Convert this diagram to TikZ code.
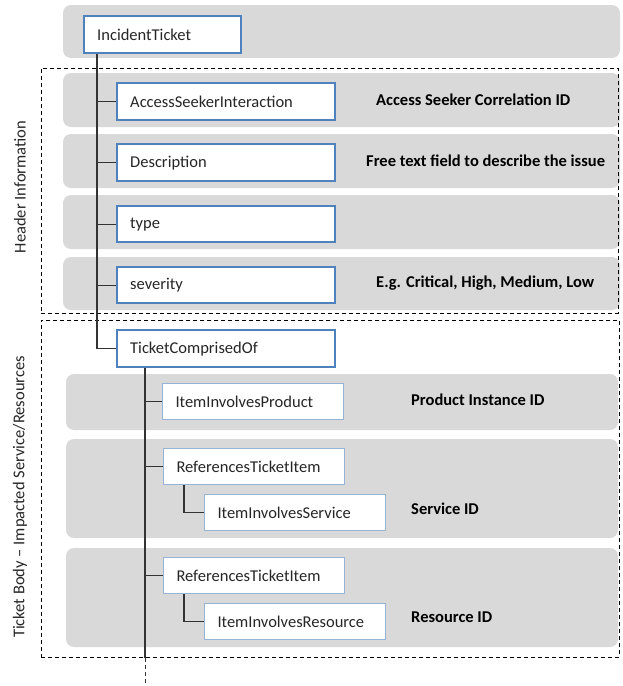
\documentclass[tikz,border=0pt]{standalone}
\usepackage{fontspec}
\setmainfont{Carlito}
\definecolor{bandgray}{HTML}{D9D9D9}
\definecolor{blueB}{HTML}{4F81BD}
\definecolor{blueL}{HTML}{95B3D7}
\definecolor{txt}{HTML}{262626}
\definecolor{conn}{HTML}{333333}
\tikzset{
  band/.style={fill=bandgray, rounded corners=8pt, draw=none},
  bigbox/.style={draw=blueB, line width=2.4pt, fill=white, anchor=north west, inner xsep=13pt, inner ysep=0pt, align=left, text=txt, font=\fontsize{16.5}{18}\selectfont, minimum height=37pt, text width=192pt},
  smallbox/.style={draw=blueL, line width=1pt, fill=white, anchor=north west, inner xsep=13pt, inner ysep=0pt, align=left, text=txt, font=\fontsize{16.5}{18}\selectfont, minimum height=36pt, text width=155pt},
  dashbox/.style={draw=black, dashed, dash pattern=on 4pt off 3pt, line width=0.9pt, anchor=north west, inner sep=0pt},
  desc/.style={anchor=west, font=\bfseries\fontsize{16.5}{18}\selectfont, text=black, inner sep=0pt},
  vlabel/.style={rotate=90, font=\fontsize{16.5}{18}\selectfont, text=txt, inner sep=0pt},
  connector/.style={draw=conn, line width=1.2pt},
}
\begin{document}
\begin{tikzpicture}[x=1pt,y=-1pt]
\useasboundingbox (0,0) rectangle (622,686);
% gray bands
\fill[band] (63,5) rectangle (620,58);
\fill[band] (63,73) rectangle (620,127);
\fill[band] (63,134) rectangle (620,188);
\fill[band] (63,195) rectangle (620,249);
\fill[band] (63,257) rectangle (620,310);
\fill[band] (66,374) rectangle (618,430);
\fill[band] (66,439) rectangle (618,538);
\fill[band] (66,548) rectangle (618,647);
% dashed frames
\node[dashbox, minimum width=577pt, minimum height=245pt] (hdr) at (41,68) {};
\node[dashbox, minimum width=578pt, minimum height=337pt] (body) at (41,320) {};
\node[vlabel] (hdrlab) at (20,187) {Header Information};
\node[vlabel] (bodylab) at (20,497) {Ticket Body – Impacted Service/Resources};
% nodes
\node[bigbox, text width=131pt] (it) at (83,15) {IncidentTicket};
\node[bigbox] (asi) at (116,82) {AccessSeekerInteraction};
\node[bigbox] (des) at (116,143) {Description};
\node[bigbox, minimum height=36pt] (typ) at (116,205) {type};
\node[bigbox, minimum height=36pt] (sev) at (116,266) {severity};
\node[bigbox] (tco) at (116,329) {TicketComprisedOf};
\node[smallbox] (iip) at (162,383) {ItemInvolvesProduct};
\node[smallbox] (rti1) at (163,448) {ReferencesTicketItem};
\node[smallbox] (iis) at (204,494) {ItemInvolvesService};
\node[smallbox] (rti2) at (163,557) {ReferencesTicketItem};
\node[smallbox] (iir) at (204,603) {ItemInvolvesResource};
% descriptions
\node[desc] (d1) at (376,100) {Access Seeker Correlation ID};
\node[desc] (d2) at (366,161) {Free text field to describe the issue};
\node[desc] (d4) at (376,283) {E.g. Critical, High, Medium, Low};
\node[desc] (d5) at (411,400) {Product Instance ID};
\node[desc] (d6) at (411,509) {Service ID};
\node[desc] (d7) at (411,617) {Resource ID};
% connectors
\coordinate (t1) at ([xshift=14pt]it.south west);
\draw[connector] (t1) |- (tco.west);
\draw[connector] (t1 |- asi.west) -- (asi.west);
\draw[connector] (t1 |- des.west) -- (des.west);
\draw[connector] (t1 |- typ.west) -- (typ.west);
\draw[connector] (t1 |- sev.west) -- (sev.west);
\coordinate (t2) at ([xshift=29pt]tco.south west);
\coordinate (t2end) at (t2 |- body.south);
\coordinate (t2tail) at (145,686);
\draw[connector] (t2) -- (t2end);
\draw[connector, dashed, dash pattern=on 4pt off 3pt, line width=0.9pt] (t2end) -- (t2tail);
\draw[connector] (t2 |- iip.west) -- (iip.west);
\draw[connector] (t2 |- rti1.west) -- (rti1.west);
\draw[connector] (t2 |- rti2.west) -- (rti2.west);
\coordinate (s1) at ([xshift=21pt]rti1.south west);
\draw[connector] (s1) |- (iis.west);
\coordinate (s2) at ([xshift=21pt]rti2.south west);
\draw[connector] (s2) |- (iir.west);
\end{tikzpicture}
\end{document}
